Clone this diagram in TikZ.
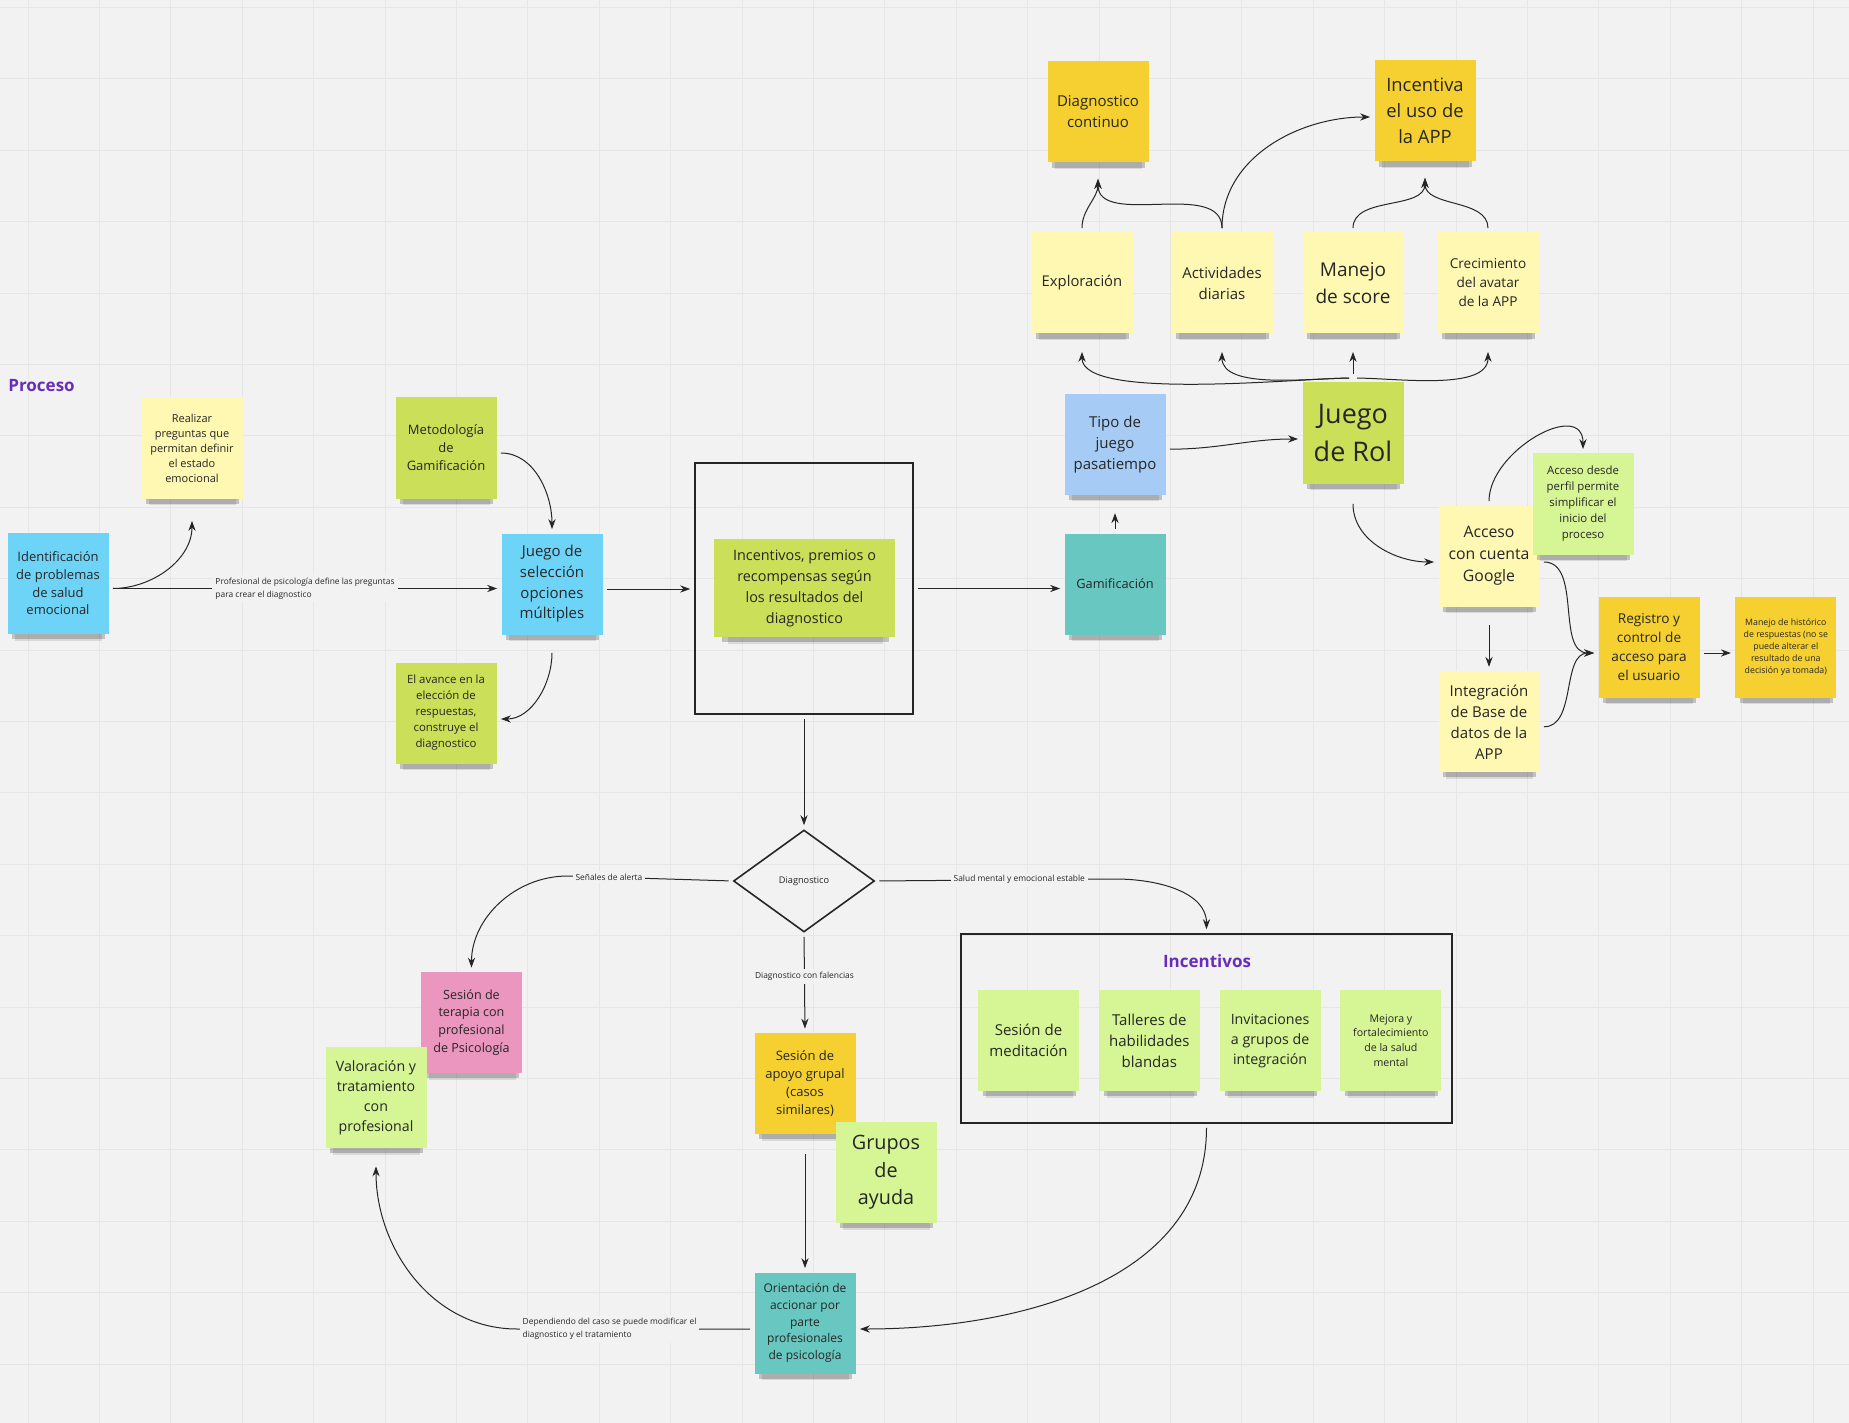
\documentclass[tikz,border=0pt]{standalone}
\usepackage{fontspec}
\setmainfont{Open Sans}
\usetikzlibrary{positioning, shapes.geometric, shadows, arrows.meta}

\definecolor{fondo}{RGB}{242,242,242}
\definecolor{rejilla}{RGB}{230,230,230}
\definecolor{azul}{RGB}{110,212,247}
\definecolor{amarillo}{RGB}{255,248,178}
\definecolor{lima}{RGB}{203,224,88}
\definecolor{naranja}{RGB}{245,208,48}
\definecolor{verde}{RGB}{214,245,148}
\definecolor{turquesa}{RGB}{104,199,192}
\definecolor{celeste}{RGB}{166,204,245}
\definecolor{rosa}{RGB}{234,150,190}
\definecolor{morado}{RGB}{104,46,186}

\newcommand{\fsz}[2]{\fontsize{#1}{#2}\selectfont}

\begin{document}
\begin{tikzpicture}[x=0.5pt, y=-0.5pt, >={Stealth[length=5pt, width=3.6pt]},
		sticky/.style={rectangle, minimum width=50.5pt, minimum height=50.5pt, inner sep=2pt, align=center, text=black!85,
			drop shadow={shadow xshift=0.5pt, shadow yshift=-8pt, shadow scale=0.86, opacity=0.1, fill=black},
			drop shadow={shadow xshift=0.5pt, shadow yshift=-5pt, shadow scale=0.92, opacity=0.2, fill=black}},
		marco/.style={draw=black!85, line width=0.8pt},
		lbl/.style={fill=fondo, inner sep=1.5pt, text=black!85, font=\fsz{4.2}{6.3}},
		flecha/.style={->, draw=black!85, line width=0.5pt, shorten >=2pt, shorten <=2pt},
		titulo/.style={text=morado, inner sep=0pt, font=\bfseries\fsz{8.5}{11}}]
	
	\useasboundingbox (0,0) rectangle (1849,1423);
	\fill[fondo] (0,0) rectangle (1849,1423);
	\foreach \i in {0,...,25} \draw[rejilla, line width=0.5pt] (28+71.4*\i,0) -- (28+71.4*\i,1423);
	\foreach \j in {0,...,19} \draw[rejilla, line width=0.5pt] (0,7.5+71.4*\j) -- (1849,7.5+71.4*\j);
	
	\node[titulo, anchor=west]                                          (proceso)         at (8,386)      {Proceso};
	\node[sticky, fill=amarillo, font=\fsz{5.5}{7.5}]                   (preguntas)       at (192,448)    {Realizar\\preguntas que\\permitan definir\\el estado\\emocional};
	\node[sticky, fill=azul, font=\fsz{6.5}{8.85}]                      (identificacion)  at (58,583.5)   {Identificación\\de problemas\\de salud\\emocional};
	\node[sticky, fill=lima, font=\fsz{6.5}{9}]                         (metodologia)     at (446,448)    {Metodología\\de\\Gamificación};
	\node[sticky, fill=azul, font=\fsz{7.5}{10.35}]                     (juego seleccion) at (552,584)    {Juego de\\selección\\opciones\\múltiples};
	\node[sticky, fill=lima, font=\fsz{5.7}{8}]                         (avance)          at (446,713)    {El avance en la\\elección de\\respuestas,\\construye el\\diagnostico};
	
	\node[marco, minimum width=109pt, minimum height=125.5pt]           (marco)           at (804,588.5)  {};
	\node[sticky, fill=lima, minimum width=90.5pt, minimum height=49pt, font=\fsz{7.2}{10.5}] (incentivos) at (804.5,588) {Incentivos, premios o\\recompensas según\\los resultados del\\diagnostico};
	
	\node[sticky, fill=turquesa, font=\fsz{6.4}{9}]                     (gamificacion)    at (1115,584)   {Gamificación};
	\node[sticky, fill=celeste, font=\fsz{7.5}{10.5}, above=19pt of gamificacion] (tipo juego) {Tipo de\\juego\\pasatiempo};
	\node[sticky, fill=lima, font=\fsz{13.5}{18.85}]                    (juego rol)       at (1353,433)   {Juego\\de Rol};
	
	\node[sticky, fill=amarillo, font=\fsz{7.4}{10.4}]                  (exploracion)     at (1082,283)   {Exploración};
	\node[sticky, fill=amarillo, font=\fsz{7.5}{10.5}]                  (actividades)     at (1222,283)   {Actividades\\diarias};
	\node[sticky, fill=amarillo, font=\fsz{9.5}{13.35}]                 (manejo)          at (1353,283)   {Manejo\\de score};
	\node[sticky, fill=amarillo, font=\fsz{6.8}{9.5}]                   (crecimiento)     at (1488,283)   {Crecimiento\\del avatar\\de la APP};
	\node[sticky, fill=naranja, font=\fsz{7.5}{10.5}]                   (continuo)        at (1098,112)   {Diagnostico\\continuo};
	\node[sticky, fill=naranja, font=\fsz{9.2}{12.85}]                  (uso app)         at (1425,111)   {Incentiva\\el uso de\\la APP};
	
	\node[sticky, fill=amarillo, font=\fsz{7.9}{11}]                    (google)          at (1489,556)   {Acceso\\con cuenta\\Google};
	\node[sticky, fill=verde, font=\fsz{5.7}{8}]                        (perfil)          at (1583,504)   {Acceso desde\\perfil permite\\simplificar el\\inicio del\\proceso};
	\node[sticky, fill=amarillo, font=\fsz{7.5}{10.5}, below=32pt of google] (base datos) {Integración\\de Base de\\datos de la\\APP};
	\node[sticky, fill=naranja, font=\fsz{6.8}{9.5}]                    (registro)        at (1649,647)   {Registro y\\control de\\acceso para\\el usuario};
	\node[sticky, fill=naranja, font=\fsz{4.4}{6}, right=17.5pt of registro] (historico) {Manejo de histórico\\de respuestas (no se\\puede alterar el\\resultado de una\\decisión ya tomada)};
	
	\node[marco, diamond, minimum width=70.5pt, minimum height=51pt, text=black!85, font=\fsz{4.6}{6}] (diagnostico) at (804,881) {Diagnostico};
	\node[sticky, fill=rosa, font=\fsz{6.3}{8.85}]                      (terapia)         at (471.5,1022.5) {Sesión de\\terapia con\\profesional\\de Psicología};
	\node[sticky, fill=verde, font=\fsz{7.1}{10}]                       (valoracion)      at (376,1097.5) {Valoración y\\tratamiento\\con\\profesional};
	\node[sticky, fill=naranja, font=\fsz{6.5}{9.15}]                   (apoyo)           at (805,1083.5) {Sesión de\\apoyo grupal\\(casos\\similares)};
	\node[sticky, fill=verde, font=\fsz{9.9}{13.85}]                    (grupos)          at (886,1172.5) {Grupos\\de\\ayuda};
	\node[sticky, fill=turquesa, font=\fsz{6}{8.35}]                    (orientacion)     at (805,1323)   {Orientación de\\accionar por\\parte\\profesionales\\de psicología};
	
	\node[marco, minimum width=245.5pt, minimum height=94.5pt]          (marco incentivos) at (1206.5,1028.5) {};
	\node[titulo]                                                       (incentivos titulo) at (1207,961) {Incentivos};
	\node[sticky, fill=verde, font=\fsz{7.5}{10.5}]                     (meditacion)      at (1028.5,1040.5) {Sesión de\\meditación};
	\node[sticky, fill=verde, font=\fsz{7.5}{10.5}, right=9.5pt of meditacion]   (talleres)     {Talleres de\\habilidades\\blandas};
	\node[sticky, fill=verde, font=\fsz{7.1}{10}, right=9.5pt of talleres]       (invitaciones) {Invitaciones\\a grupos de\\integración};
	\node[sticky, fill=verde, font=\fsz{5.3}{7.35}, right=9.5pt of invitaciones] (mejora)       {Mejora y\\fortalecimiento\\de la salud\\mental};
	
	
	\draw[flecha] ([yshift=-2.5pt]identificacion.east) -- node[lbl, align=left] {Profesional de psicología define las preguntas\\para crear el diagnostico} ([yshift=-2.5pt]identificacion.east -| juego seleccion.west);
	\draw[flecha] ([yshift=-2.5pt]identificacion.east) to[out=0, in=-90] ([yshift=-9pt]preguntas.south);
	\draw[flecha] ([yshift=-2.5pt]metodologia.east) to[out=0, in=90] (juego seleccion.north);
	\draw[flecha] ([yshift=-7pt]juego seleccion.south) to[out=-90, in=0] ([yshift=-3pt]avance.east);
	\draw[flecha] ([yshift=-2.5pt]juego seleccion.east) -- ([yshift=-2.5pt]juego seleccion.east -| marco.west);
	\draw[flecha] (marco.east) -- (marco.east -| gamificacion.west);
	\draw[flecha] (gamificacion.north) -- ([yshift=-7pt]tipo juego.south);
	\draw[flecha] ([yshift=-2.5pt]tipo juego.east) to[out=0, in=180] ([yshift=-3pt]juego rol.west);
	
	\draw[flecha] ([yshift=2pt]juego rol.north) to[out=180, in=-90, looseness=0.5] ([yshift=-7pt]exploracion.south);
	\draw[flecha] ([yshift=2pt]juego rol.north) to[out=180, in=-90, looseness=0.8] ([yshift=-7pt]actividades.south);
	\draw[flecha] ([yshift=2pt]juego rol.north) -- ([yshift=-7pt]manejo.south);
	\draw[flecha] ([yshift=2pt]juego rol.north) to[out=0, in=-90, looseness=0.8] ([yshift=-7pt]crecimiento.south);
	\draw[flecha] (exploracion.north) to[out=90, in=-90] ([yshift=-6pt]continuo.south);
	\draw[flecha] (actividades.north) to[out=90, in=-90] ([yshift=-6pt]continuo.south);
	\draw[flecha] (actividades.north) to[out=90, in=180] ([yshift=-3pt]uso app.west);
	\draw[flecha] (manejo.north) to[out=90, in=-90] ([yshift=-6pt]uso app.south);
	\draw[flecha] (crecimiento.north) to[out=90, in=-90] ([yshift=-6pt]uso app.south);
	
	\draw[flecha] ([yshift=-8pt]juego rol.south) to[out=-90, in=180] ([yshift=-3pt]google.west);
	\draw[flecha] (google.north) to[out=90, in=90, looseness=1.3] (perfil.north);
	\draw[flecha] ([yshift=-7pt]google.south) -- (base datos.north);
	\draw[flecha] ([yshift=-3pt]google.east) to[out=0, in=180] ([yshift=-3pt]registro.west);
	\draw[flecha] ([yshift=-2.5pt]base datos.east) to[out=0, in=180] ([yshift=-3pt]registro.west);
	\draw[flecha] ([yshift=-3pt]registro.east) -- ([yshift=-3pt]historico.west);
	
	\draw[flecha] (marco.south) -- (diagnostico.north);
	\draw[flecha] (diagnostico.west) -- node[lbl, pos=0.75] {Señales de alerta} ++(-165,-5) to[out=180, in=90] (terapia.north);
	\draw[flecha] (diagnostico.east) -- node[lbl, pos=0.6] {Salud mental y emocional estable} ++(240,-2) to[out=0, in=90] (marco incentivos.north);
	\draw[flecha] (diagnostico.south) -- node[lbl, pos=0.44] {Diagnostico con falencias} (apoyo.north);
	\draw[flecha] ([yshift=-8pt]apoyo.south) -- (orientacion.north);
	\draw[flecha] ([yshift=-3pt]orientacion.west) -- node[lbl, align=left, pos=0.61] {Dependiendo del caso se puede modificar el\\diagnostico y el tratamiento} ++(-237,0) to[out=180, in=-90] ([yshift=-7pt]valoracion.south);
	\draw[flecha] (marco incentivos.south) to[out=-90, in=0] ([yshift=-3pt]orientacion.east);
\end{tikzpicture}
\end{document}
